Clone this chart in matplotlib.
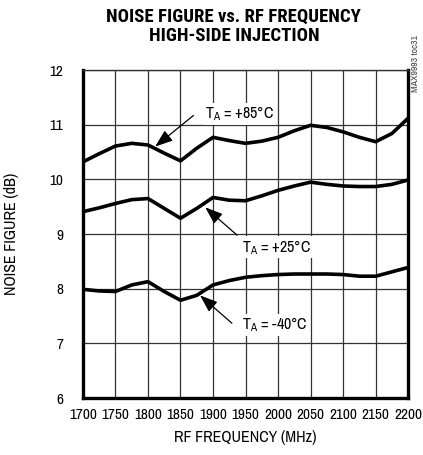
import matplotlib
matplotlib.use("Agg")
import matplotlib.pyplot as plt
from matplotlib import font_manager

names = {f.name for f in font_manager.fontManager.ttflist}
def pick(*cands):
    for c in cands:
        if c in names:
            return c
    return "DejaVu Sans"
narrow = pick("Archivo Narrow", "Roboto Condensed", "IBM Plex Sans Condensed", "Liberation Sans")
titlef = pick("Roboto Condensed", "Open Sans Condensed", "IBM Plex Sans Condensed", "Barlow Condensed", narrow)

freq = [1700, 1725, 1750, 1775, 1800, 1825, 1850, 1875, 1900, 1925, 1950,
        1975, 2000, 2025, 2050, 2075, 2100, 2125, 2150, 2175, 2200]
nf_p85 = [10.32, 10.47, 10.61, 10.66, 10.63, 10.48, 10.34, 10.57, 10.77, 10.71, 10.66,
          10.70, 10.77, 10.89, 10.99, 10.95, 10.87, 10.77, 10.69, 10.84, 11.12]
nf_p25 = [9.41, 9.48, 9.56, 9.63, 9.65, 9.47, 9.29, 9.47, 9.67, 9.62, 9.61,
          9.70, 9.80, 9.88, 9.95, 9.91, 9.88, 9.87, 9.87, 9.91, 9.99]
nf_m40 = [7.99, 7.96, 7.95, 8.07, 8.13, 7.95, 7.79, 7.88, 8.07, 8.15, 8.21,
          8.24, 8.26, 8.27, 8.27, 8.27, 8.26, 8.23, 8.23, 8.31, 8.39]
xticks = [1700, 1750, 1800, 1850, 1900, 1950, 2000, 2050, 2100, 2150, 2200]
yticks = [6, 7, 8, 9, 10, 11, 12]

fig = plt.figure(figsize=(4.23, 4.55), dpi=100)
ax = fig.add_axes([0.196, 0.125, 0.769, 0.721])
ax.set_xlim(1700, 2200)
ax.set_ylim(6, 12)
ax.set_xticks(xticks)
ax.set_yticks(yticks)
ax.set_xticklabels([str(t) for t in xticks], family=narrow, fontsize=11)
ax.set_yticklabels([str(t) for t in yticks], family=narrow, fontsize=11)
ax.tick_params(length=0, pad=7)
ax.tick_params(axis="y", pad=14)
ax.grid(True, color="#333333", linewidth=0.9)
ax.set_axisbelow(True)
for s in ["left", "right", "bottom"]:
    ax.spines[s].set_linewidth(2.4)
    ax.spines[s].set_color("black")
ax.spines["top"].set_linewidth(1.0)
ax.spines["top"].set_color("#333333")

for y in (nf_p85, nf_p25, nf_m40):
    ax.plot(freq, y, color="black", linewidth=2.6, solid_capstyle="butt",
            solid_joinstyle="round")

txt = dict(family=narrow, fontsize=11.5, va="center", ha="left",
           bbox=dict(facecolor="white", edgecolor="none", pad=1.0))
arrow = dict(arrowstyle="-|>,head_length=0.6,head_width=0.22", color="black",
             lw=0.9, mutation_scale=18, shrinkA=0, shrinkB=0)
ax.text(1888, 11.2, r"T$_\mathregular{A}$ = +85°C", **txt)
ax.annotate("", xy=(1811, 10.6), xytext=(1870, 11.17), arrowprops=arrow)
ax.text(1945, 8.76, r"T$_\mathregular{A}$ = +25°C", **txt)
ax.annotate("", xy=(1888, 9.49), xytext=(1937, 8.98), arrowprops=arrow)
ax.text(1945, 7.34, r"T$_\mathregular{A}$ = -40°C", **txt)
ax.annotate("", xy=(1880, 7.88), xytext=(1929, 7.37), arrowprops=arrow)

ax.set_xlabel("RF FREQUENCY (MHz)", family=narrow, fontsize=11.5, labelpad=6)
ax.set_ylabel("NOISE FIGURE (dB)", family=narrow, fontsize=11.5, labelpad=22)

fig.text(0.553, 0.942, "NOISE FIGURE vs. RF FREQUENCY\nHIGH-SIDE INJECTION",
         ha="center", va="center", family=titlef, fontweight="black",
         fontsize=13.5, linespacing=1.05)
fig.text(0.983, 0.86, "MAX9993 toc31", rotation=90, ha="center", va="center",
         family=narrow, fontsize=7, color="#444444")

fig.savefig("out.png", dpi=100)
